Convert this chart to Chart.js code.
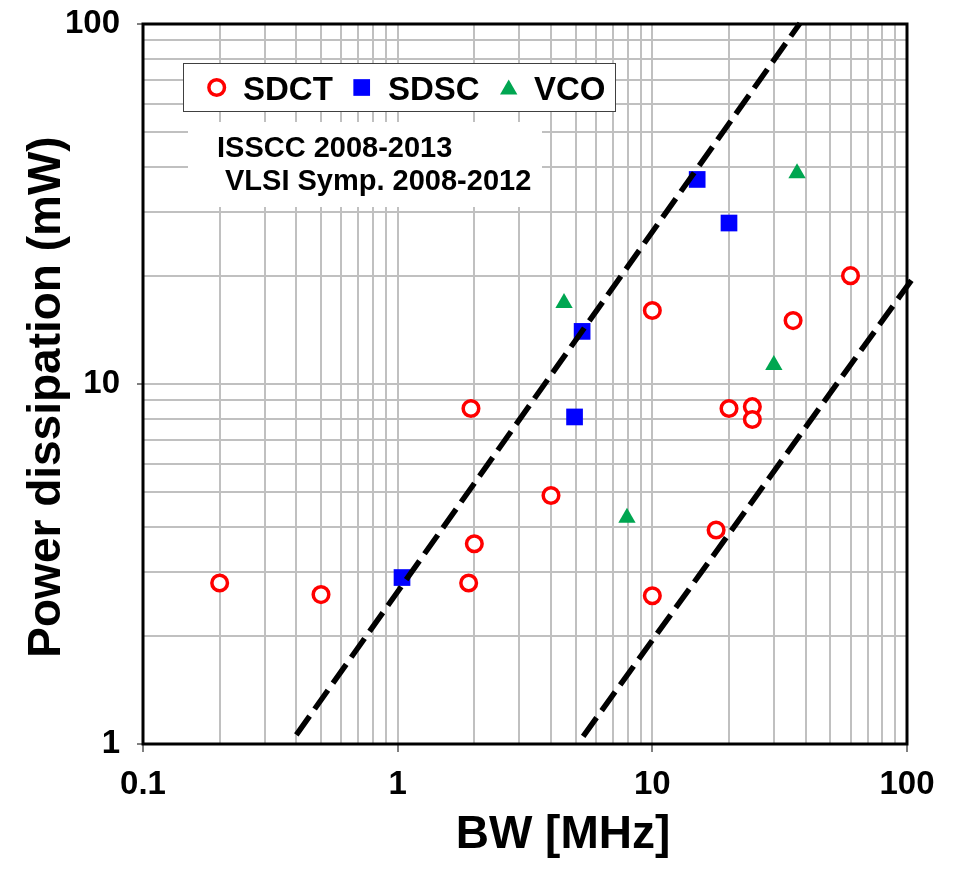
<!DOCTYPE html>
<html><head><meta charset="utf-8">
<script src="https://cdn.jsdelivr.net/npm/chart.js@4/dist/chart.umd.min.js"></script>
<style>html,body{margin:0;padding:0;background:#fff;}canvas{display:block;}</style>
</head><body>
<canvas id="c" width="960" height="871"></canvas>
<script>
// ---- data ----
const seriesNames = ['SDCT', 'SDSC', 'VCO'];
const sdctBW    = [0.2, 0.5, 1.94, 2.0, 1.9, 4.0, 10, 10, 17.8, 20, 24.7, 24.7, 35.7, 60];
const sdctPower = [2.8, 2.6, 8.55, 3.6, 2.8, 4.9, 16, 2.58, 3.93, 8.55, 8.65, 7.97, 15, 20];
const sdscBW    = [1.04, 4.95, 5.3, 15, 20];
const sdscPower = [2.9, 8.1, 14, 37, 28];
const vcoBW     = [4.5, 7.95, 30, 37];
const vcoPower  = [16.8, 4.25, 11.3, 38.5];
const trendHighBW    = [0.4, 38];
const trendHighPower = [1.06, 100.5];
const trendLowBW     = [5.35, 104];
const trendLowPower  = [1.05, 19.4];
const xTickLabels = ['0.1', '1', '10', '100'];
const yTickLabels = ['1', '10', '100'];
const annotationLines = ['ISSCC 2008-2013', 'VLSI Symp. 2008-2012'];
const xTitle = 'BW [MHz]';
const yTitle = 'Power dissipation (mW)';

const FONT = '"Liberation Sans", Arial, Helvetica, sans-serif';
const zip = (xs, ys) => xs.map((x, i) => ({x: x, y: ys[i]}));

function logTicks(min, max) {
  const t = [];
  const e0 = Math.round(Math.log10(min)), e1 = Math.round(Math.log10(max));
  for (let e = e0; e < e1; e++) for (let k = 1; k < 10; k++) t.push({value: k * Math.pow(10, e)});
  t.push({value: max});
  return t;
}
function isDecade(v) { const l = Math.log10(v); return Math.abs(l - Math.round(l)) < 1e-6; }
function decadeLabel(labels, minExp) {
  return function (v) { return isDecade(v) ? labels[Math.round(Math.log10(v)) - minExp] : ''; };
}

const decor = {
  id: 'decor',
  beforeDatasetsDraw(chart) {
    const ctx = chart.ctx, a = chart.chartArea;
    ctx.save();
    // legend box
    ctx.fillStyle = '#ffffff';
    ctx.fillRect(183, 63.5, 432, 48);
    ctx.strokeStyle = '#404040'; ctx.lineWidth = 1;
    ctx.strokeRect(183.5, 63.5, 432, 48);
    const mx = [216.7, 361.7, 508.7], my = [87.5, 87.5, 89.5], tx = [243, 388, 534];
    const ds = chart.data.datasets.filter(d => seriesNames.includes(d.label));
    ds.forEach((d, i) => {
      ctx.fillStyle = d.backgroundColor; ctx.strokeStyle = d.borderColor; ctx.lineWidth = d.borderWidth;
      Chart.helpers.drawPoint(ctx, {pointStyle: d.pointStyle, radius: d.pointRadius, rotation: 0, borderWidth: d.borderWidth}, mx[i], my[i]);
      ctx.fillStyle = '#000'; ctx.font = 'bold 33px ' + FONT; ctx.textBaseline = 'alphabetic'; ctx.textAlign = 'left';
      ctx.fillText(d.label, tx[i], 100);
    });
    // annotation box
    ctx.fillStyle = '#ffffff';
    ctx.fillRect(188, 122, 354, 85);
    ctx.fillStyle = '#000'; ctx.font = 'bold 29px ' + FONT;
    ctx.fillText(annotationLines[0], 217, 157);
    ctx.fillText(annotationLines[1], 225, 190);
    // plot frame
    ctx.strokeStyle = '#000'; ctx.lineWidth = 3;
    ctx.strokeRect(a.left, a.top, a.right - a.left, a.bottom - a.top);
    ctx.restore();
  },
  afterDraw(chart) {
    const ctx = chart.ctx;
    ctx.save();
    ctx.fillStyle = '#000';
    ctx.font = 'bold 46px ' + FONT;
    ctx.textAlign = 'center'; ctx.textBaseline = 'alphabetic';
    ctx.fillText(xTitle, 563, 848);
    ctx.translate(60, 397);
    ctx.rotate(-Math.PI / 2);
    ctx.fillText(yTitle, 0, 0);
    ctx.restore();
  }
};

const gridCommon = {
  color: '#c0c0c0', lineWidth: 2, drawTicks: true, tickWidth: 1,
  tickColor: c => (c.tick && isDecade(c.tick.value)) ? '#000000' : 'rgba(0,0,0,0)'
};

new Chart(document.getElementById('c'), {
  type: 'scatter',
  data: {
    datasets: [
      {label: 'trendHigh', data: zip(trendHighBW, trendHighPower), showLine: true, borderColor: '#000', borderWidth: 5.5,
       borderDash: [23, 8.7], pointRadius: 0, clip: false, order: 0, fill: false},
      {label: 'trendLow', data: zip(trendLowBW, trendLowPower), showLine: true, borderColor: '#000', borderWidth: 5.5,
       borderDash: [23, 8.7], pointRadius: 0, clip: false, order: 0, fill: false},
      {label: seriesNames[0], data: zip(sdctBW, sdctPower), pointStyle: 'circle', pointRadius: 7.8, borderWidth: 3.5,
       borderColor: '#ff0000', backgroundColor: '#ffffff', order: 1},
      {label: seriesNames[1], data: zip(sdscBW, sdscPower), pointStyle: 'rect', pointRadius: 11.8, borderWidth: 0,
       borderColor: '#0000ff', backgroundColor: '#0000ff', order: 1},
      {label: seriesNames[2], data: zip(vcoBW, vcoPower), pointStyle: 'triangle', pointRadius: 10, borderWidth: 0,
       borderColor: '#00a651', backgroundColor: '#00a651', order: 1}
    ]
  },
  options: {
    responsive: false, animation: false, events: [],
    layout: {padding: {left: 0, top: 24, right: 53, bottom: 0}},
    plugins: {legend: {display: false}, tooltip: {enabled: false}},
    scales: {
      x: {
        type: 'logarithmic', position: 'bottom', min: 0.1, max: 100,
        afterBuildTicks: s => { s.ticks = logTicks(0.1, 100); },
        afterFit: s => { s.height = 127; s.paddingLeft = 0; s.paddingRight = 0; },
        ticks: {autoSkip: false, maxRotation: 0, minRotation: 0, padding: 13, color: '#000',
                font: {family: FONT, size: 33, weight: 'bold'}, callback: decadeLabel(xTickLabels, -1)},
        grid: Object.assign({}, gridCommon, {tickLength: 8}),
        border: {display: false},
        title: {display: false, text: xTitle}
      },
      y: {
        type: 'logarithmic', position: 'left', min: 1, max: 100,
        afterBuildTicks: s => { s.ticks = logTicks(1, 100); },
        afterFit: s => { s.width = 143; s.paddingTop = 0; s.paddingBottom = 0; },
        ticks: {autoSkip: false, padding: 17, color: '#000',
                font: {family: FONT, size: 33, weight: 'bold'}, callback: decadeLabel(yTickLabels, 0)},
        grid: Object.assign({}, gridCommon, {tickLength: 6}),
        border: {display: false},
        title: {display: false, text: yTitle}
      }
    }
  },
  plugins: [decor]
});
</script>
</body></html>
